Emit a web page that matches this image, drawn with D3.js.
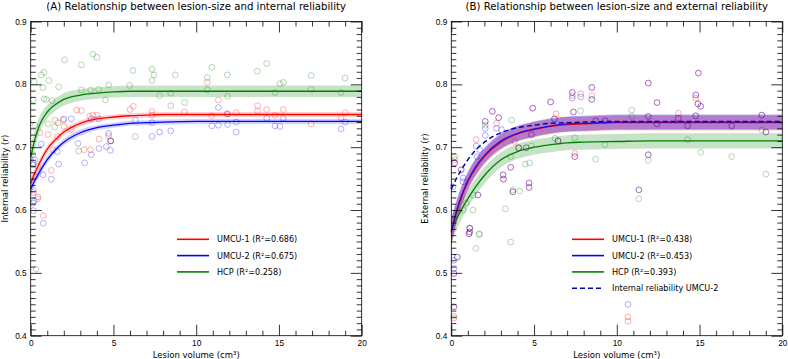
<!DOCTYPE html>
<html>
<head>
<meta charset="utf-8">
<script src="https://cdn.jsdelivr.net/npm/d3@7"></script>
<style>
  body { margin: 0; background: #fff; }
  svg { font-family: "DejaVu Sans", sans-serif; }
</style>
</head>
<body>
<svg id="chart" width="788" height="359"></svg>
<script>
// ---- data ----
var fitX = [0, 0.25, 0.5, 1, 1.5, 2, 3, 4, 5, 6, 7, 8, 10, 12, 15, 20]

// panel A fits (internal reliability)
var intU1Fit  = [0.642,0.659,0.673,0.697,0.712,0.724,0.738,0.745,0.748,0.750,0.751,0.752,0.752,0.752,0.752,0.752]
var intU2Fit  = [0.633,0.647,0.659,0.680,0.696,0.708,0.723,0.731,0.735,0.738,0.739,0.740,0.741,0.741,0.741,0.741]
var intHcpFit = [0.684,0.712,0.733,0.756,0.768,0.776,0.783,0.786,0.788,0.789,0.789,0.789,0.789,0.789,0.789,0.789]
var intU1Ci   = [0.010,0.008,0.007,0.006,0.005,0.005,0.005,0.004,0.004,0.004,0.004,0.004,0.004,0.004,0.004,0.004]
var intU2Ci   = [0.010,0.008,0.007,0.006,0.005,0.005,0.005,0.004,0.004,0.004,0.004,0.004,0.004,0.004,0.004,0.004]
var intHcpCi  = [0.018,0.015,0.013,0.011,0.010,0.010,0.009,0.009,0.009,0.009,0.009,0.009,0.009,0.009,0.009,0.009]

// panel B fits (external reliability)
var extU1Fit  = [0.564,0.590,0.612,0.645,0.668,0.685,0.708,0.721,0.728,0.733,0.736,0.737,0.739,0.739,0.739,0.739]
var extU2Fit  = [0.566,0.592,0.614,0.647,0.670,0.687,0.710,0.722,0.729,0.734,0.737,0.738,0.740,0.740,0.740,0.740]
var extHcpFit = [0.568,0.582,0.595,0.618,0.638,0.655,0.680,0.693,0.700,0.704,0.707,0.708,0.709,0.710,0.710,0.710]
var extU1Ci   = [0.020,0.018,0.016,0.014,0.013,0.012,0.012,0.012,0.012,0.012,0.012,0.012,0.012,0.012,0.012,0.012]
var extU2Ci   = [0.020,0.018,0.016,0.014,0.013,0.012,0.012,0.012,0.012,0.012,0.012,0.012,0.012,0.012,0.012,0.012]
var extHcpCi  = [0.020,0.018,0.016,0.014,0.013,0.013,0.012,0.012,0.012,0.012,0.012,0.012,0.012,0.012,0.012,0.012]

// panel A scatter
var intU1X = [3.06,6.0,6.2,3.76,4.0,3.56,7.33,7.33,9.3,1.95,2.45,2.01,1.05,1.61,4.13,4.71,3.22,3.62,1.35,1.25,0.44,0.28,0.44,0.42,0.76,4.83,10.67,11.34,10.94,11.88,12.42,13.71,13.71,14.26,14.76,15.26,16.94,18.75,19.0,0.56,0.16,2.78,1.47]
var intU1Y = [0.758,0.760,0.765,0.751,0.751,0.749,0.757,0.751,0.756,0.743,0.728,0.733,0.720,0.717,0.713,0.718,0.696,0.696,0.696,0.663,0.669,0.653,0.621,0.618,0.591,0.710,0.803,0.775,0.750,0.753,0.755,0.766,0.758,0.760,0.751,0.760,0.737,0.747,0.755,0.723,0.632,0.759,0.743]
var intU2X = [2.01,2.45,3.66,4.1,6.32,7.33,7.79,8.46,7.33,4.71,4.57,4.81,4.13,3.66,3.26,2.86,1.61,1.69,1.25,0.74,0.24,0.14,0.64,0.22,0.76,0.16,0.16,4.83,11.34,10.94,11.34,11.88,11.9,12.42,12.42,14.26,14.76,15.06,15.26,18.75,19.0,0.14,0.14]
var intU2Y = [0.745,0.745,0.745,0.745,0.743,0.739,0.724,0.726,0.717,0.722,0.701,0.695,0.698,0.688,0.675,0.706,0.693,0.673,0.649,0.656,0.680,0.672,0.705,0.614,0.579,0.628,0.599,0.710,0.763,0.734,0.735,0.753,0.736,0.740,0.724,0.746,0.734,0.733,0.746,0.729,0.740,0.675,0.611]
var intHcpX = [3.76,4.0,2.05,3.06,0.80,0.64,1.09,6.18,7.33,7.45,7.33,8.74,0.74,1.69,4.71,5.98,3.06,3.62,4.1,0.80,0.94,1.3,4.51,7.79,8.46,9.3,8.46,1.65,1.45,2.9,6.32,0.14,0.32,4.83,10.94,10.67,11.88,10.67,11.9,13.69,14.26,15.06,15.27,14.76,16.94,16.94,18.75,19.0,0.22,0.16,0.26,1.06]
var intHcpY = [0.848,0.843,0.839,0.831,0.819,0.815,0.806,0.822,0.824,0.815,0.806,0.815,0.795,0.796,0.799,0.798,0.791,0.791,0.792,0.777,0.776,0.774,0.775,0.782,0.786,0.771,0.766,0.739,0.732,0.694,0.717,0.688,0.506,0.710,0.827,0.811,0.815,0.791,0.781,0.821,0.833,0.801,0.803,0.787,0.814,0.792,0.787,0.810,0.804,0.775,0.735,0.737]

// panel B scatter (lesions where UMCU-1 and UMCU-2 coincide, then the rest)
var extBothX = [14.93,11.9,12.43,14.77,14.9,15.07,11.9,13.72,14.77,12.43,14.28,16.94,18.76,19.01,11.9,11.33,8.49,7.31,6.0,4.92,2.48,2.86,2.05,6.23,7.38,8.72,9.3,7.46,6.45,4.84,4.07,4.53,3.59,3.13,3.15,4.7,4.7,3.72,1.61,1.11,1.11,0.2,0.6,0.16,0.36,0.16,1.07]
var extBothY = [0.818,0.802,0.771,0.783,0.769,0.765,0.749,0.746,0.750,0.737,0.734,0.734,0.751,0.724,0.688,0.632,0.795,0.787,0.772,0.762,0.757,0.747,0.741,0.745,0.756,0.742,0.742,0.685,0.710,0.720,0.699,0.699,0.668,0.656,0.649,0.643,0.636,0.629,0.624,0.571,0.565,0.675,0.664,0.499,0.525,0.446,0.562]
var extU1OnlyX = [8.49,7.31,7.82,6.33,13.72,2.73,1.51,3.83,7.46,0.2,10.67,10.67,0.16,14.77]
var extU1OnlyY = [0.782,0.782,0.785,0.753,0.754,0.738,0.712,0.709,0.690,0.680,0.430,0.423,0.428,0.778]
var extU2OnlyX = [8.49,7.31,7.82,2.05,2.05,2.73,3.03,1.51,1.71,1.56,0.71,0.71,10.67,0.16,0.16,0.1]
var extU2OnlyY = [0.776,0.778,0.780,0.730,0.719,0.730,0.728,0.702,0.696,0.685,0.651,0.645,0.450,0.507,0.520,0.637]
var extHcpX = [10.9,10.9,18.76,14.28,15.07,16.94,11.9,19.01,11.33,8.49,7.82,3.64,2.05,8.72,9.27,7.46,6.27,4.84,3.59,4.47,4.73,3.72,4.13,3.27,1.31,1.71,1.48,1.67,1.12,3.59,1.33,0.73,0.9,0.16,0.2,6.45,4.07]
var extHcpY = [0.759,0.749,0.727,0.712,0.692,0.685,0.679,0.657,0.618,0.776,0.758,0.743,0.735,0.681,0.704,0.715,0.714,0.702,0.685,0.673,0.675,0.632,0.630,0.602,0.600,0.561,0.539,0.562,0.571,0.549,0.624,0.600,0.611,0.431,0.685,0.710,0.699]

var intLegend = ["UMCU-1 (R²=0.686)", "UMCU-2 (R²=0.675)", "HCP (R²=0.258)"]
var extLegend = ["UMCU-1 (R²=0.438)", "UMCU-2 (R²=0.453)", "HCP (R²=0.393)", "Internal reliability UMCU-2"]

var RED = "#ff0000", BLUE = "#0000ff", GREEN = "#008000"

var svg = d3.select("#chart")
var top_ = 21.5, bottom = 335.7

function zip(xs, ys) { return xs.map(function(x, i) { return [x, ys[i]] }) }

function drawPanel(opt) {
  var x = d3.scaleLinear().domain([0, 20]).range([opt.left, opt.right])
  var y = d3.scaleLinear().domain([0.4, 0.9]).range([bottom, top_])
  var g = svg.append("g")
  var cx = (opt.left + opt.right) / 2

  // scatter
  opt.points.forEach(function(s) {
    g.selectAll(null).data(zip(s.x, s.y)).enter().append("circle")
      .attr("cx", function(d) { return x(d[0]) })
      .attr("cy", function(d) { return y(d[1]) })
      .attr("r", 2.9)
      .attr("fill", "none")
      .attr("stroke", s.color)
      .attr("stroke-width", 1)
      .attr("stroke-opacity", s.alpha)
  })

  // confidence bands
  opt.fits.forEach(function(f) {
    var area = d3.area().curve(d3.curveMonotoneX)
      .x(function(d, i) { return x(fitX[i]) })
      .y0(function(d, i) { return y(d - f.ci[i]) })
      .y1(function(d, i) { return y(d + f.ci[i]) })
    g.append("path").attr("d", area(f.y))
      .attr("fill", f.color).attr("fill-opacity", f.bandAlpha)
  })

  // fitted lines
  opt.fits.concat(opt.extraLines || []).forEach(function(f) {
    var line = d3.line().curve(d3.curveMonotoneX)
      .x(function(d, i) { return x(fitX[i]) })
      .y(function(d) { return y(d) })
    g.append("path").attr("d", line(f.y))
      .attr("fill", "none").attr("stroke", f.color)
      .attr("stroke-width", f.width || 1.3)
      .attr("stroke-opacity", f.lineAlpha || 1)
      .attr("stroke-dasharray", f.dash || null)
  })

  // axes: ticks point inward on all four sides
  function ax(gen, tr) {
    var a = g.append("g").attr("transform", tr).call(gen)
    a.select(".domain").remove()
    a.selectAll("line").attr("stroke", "#000").attr("stroke-width", 0.8)
    a.selectAll("text").attr("font-size", 8.3).attr("fill", "#000")
    return a
  }
  var yMajor = [0.4, 0.5, 0.6, 0.7, 0.8, 0.9]
  var yMinor = d3.range(40, 91).map(function(v) { return v / 100 }).filter(function(v) { return Math.round(v * 100) % 10 != 0 })
  var xMajor = [0, 5, 10, 15, 20]
  var xMinor = d3.range(0, 21).filter(function(v) { return v % 5 != 0 })

  ax(d3.axisBottom(x).tickValues(xMajor).tickSize(-11).tickPadding(4).tickFormat(d3.format("d")), "translate(0," + bottom + ")")
  ax(d3.axisBottom(x).tickValues(xMinor).tickSize(-5).tickFormat(""), "translate(0," + bottom + ")")
  ax(d3.axisTop(x).tickValues(xMajor).tickSize(-11).tickFormat(""), "translate(0," + top_ + ")")
  ax(d3.axisTop(x).tickValues(xMinor).tickSize(-5).tickFormat(""), "translate(0," + top_ + ")")
  ax(d3.axisLeft(y).tickValues(yMajor).tickSize(-11).tickPadding(4).tickFormat(d3.format(".1f")), "translate(" + opt.left + ",0)")
  ax(d3.axisLeft(y).tickValues(yMinor).tickSize(-5).tickFormat(""), "translate(" + opt.left + ",0)")
  ax(d3.axisRight(y).tickValues(yMajor).tickSize(-11).tickFormat(""), "translate(" + opt.right + ",0)")
  ax(d3.axisRight(y).tickValues(yMinor).tickSize(-5).tickFormat(""), "translate(" + opt.right + ",0)")

  g.append("rect")
    .attr("x", opt.left).attr("y", top_)
    .attr("width", opt.right - opt.left).attr("height", bottom - top_)
    .attr("fill", "none").attr("stroke", "#000").attr("stroke-width", 0.8)

  // texts
  g.append("text").attr("x", cx).attr("y", 10).attr("text-anchor", "middle")
    .attr("font-size", 10.2).text(opt.title)
  g.append("text").attr("x", cx).attr("y", 357.5).attr("text-anchor", "middle")
    .attr("font-size", 8.5).text("Lesion volume (cm³)")
  g.append("text").attr("transform", "translate(" + opt.ylabelX + "," + ((top_ + bottom) / 2) + ") rotate(-90)")
    .attr("text-anchor", "middle").attr("font-size", 8.5).text(opt.ylabel)

  // legend
  opt.legend.forEach(function(item, i) {
    var ly = 239.3 + i * 16.3
    g.append("line").attr("x1", opt.legendX).attr("x2", opt.legendX + 32)
      .attr("y1", ly).attr("y2", ly)
      .attr("stroke", item.color).attr("stroke-width", 1.6)
      .attr("stroke-dasharray", item.dash || null)
    g.append("text").attr("x", opt.legendX + 40).attr("y", ly + 3)
      .attr("font-size", 8.1).text(item.label)
  })
}

drawPanel({
  left: 30.7, right: 361.7, ylabelX: 8,
  title: "(A) Relationship between lesion-size and internal reliability",
  ylabel: "Internal reliability (r)",
  points: [
    { x: intHcpX, y: intHcpY, color: GREEN, alpha: 0.3 },
    { x: intU1X, y: intU1Y, color: RED, alpha: 0.3 },
    { x: intU2X, y: intU2Y, color: BLUE, alpha: 0.3 }
  ],
  fits: [
    { y: intHcpFit, ci: intHcpCi, color: GREEN, bandAlpha: 0.22 },
    { y: intU1Fit, ci: intU1Ci, color: RED, bandAlpha: 0.18 },
    { y: intU2Fit, ci: intU2Ci, color: BLUE, bandAlpha: 0.18 }
  ],
  legendX: 177,
  legend: [
    { label: intLegend[0], color: RED },
    { label: intLegend[1], color: BLUE },
    { label: intLegend[2], color: GREEN }
  ]
})

drawPanel({
  left: 451.3, right: 782.3, ylabelX: 428,
  title: "(B) Relationship between lesion-size and external reliability",
  ylabel: "External reliability (r)",
  points: [
    { x: extHcpX, y: extHcpY, color: GREEN, alpha: 0.3 },
    { x: extBothX.concat(extU1OnlyX), y: extBothY.concat(extU1OnlyY), color: RED, alpha: 0.32 },
    { x: extBothX.concat(extU2OnlyX), y: extBothY.concat(extU2OnlyY), color: BLUE, alpha: 0.32 }
  ],
  fits: [
    { y: extHcpFit, ci: extHcpCi, color: GREEN, bandAlpha: 0.22 },
    { y: extU1Fit, ci: extU1Ci, color: RED, bandAlpha: 0.3 },
    { y: extU2Fit, ci: extU2Ci, color: BLUE, bandAlpha: 0.3, lineAlpha: 0.8 }
  ],
  extraLines: [
    { y: intU2Fit, color: "#0000aa", dash: "5,3", width: 1.4 }
  ],
  legendX: 572,
  legend: [
    { label: extLegend[0], color: RED },
    { label: extLegend[1], color: BLUE },
    { label: extLegend[2], color: GREEN },
    { label: extLegend[3], color: "#0000aa", dash: "5,3" }
  ]
})
</script>
</body>
</html>
